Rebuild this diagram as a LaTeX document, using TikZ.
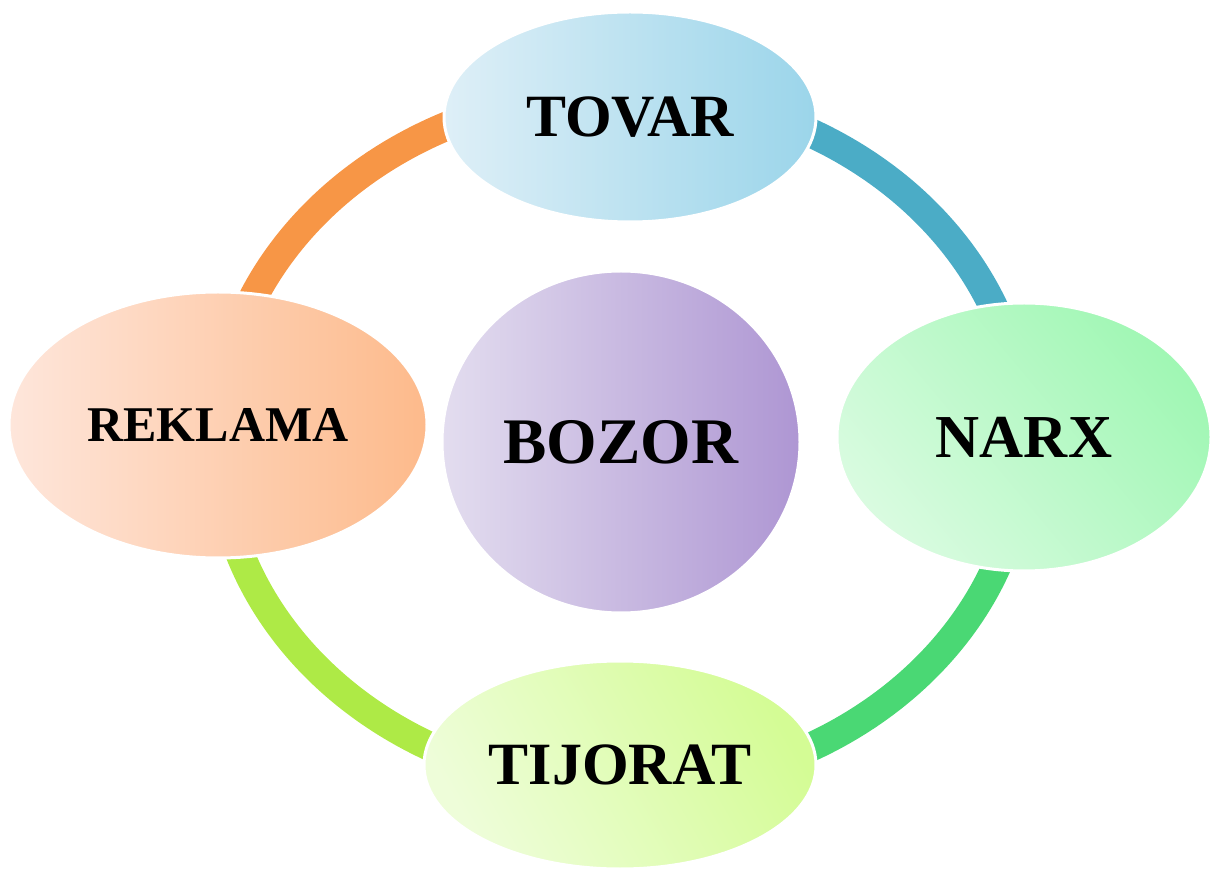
\documentclass[tikz,border=0pt]{standalone}
\usepackage{fontspec}
\setmainfont{Liberation Serif}
\usetikzlibrary{shapes.geometric}

\definecolor{ringorange}{HTML}{F79646}
\definecolor{ringblue}{HTML}{4BACC6}
\definecolor{ringgreen}{HTML}{4AD874}
\definecolor{ringlime}{HTML}{AEEA46}

\definecolor{tovL}{HTML}{DEEFF7}
\definecolor{tovR}{HTML}{9BD5EA}
\definecolor{narL}{HTML}{D9FBE0}
\definecolor{narR}{HTML}{A0F7B4}
\definecolor{tijL}{HTML}{EEFDD9}
\definecolor{tijR}{HTML}{D4FC95}
\definecolor{rekL}{HTML}{FEE6DB}
\definecolor{rekR}{HTML}{FDBA8B}
\definecolor{bozL}{HTML}{E3DDEF}
\definecolor{bozR}{HTML}{AE96D3}

\begin{document}
\begin{tikzpicture}[x=1pt,y=1pt,
  bubble/.style={ellipse, draw=white, line width=3pt, inner sep=0pt,
    text=black, font=\bfseries},
  ringarc/.style={line width=29pt},
]
\useasboundingbox (0,0) rectangle (1210,868);

% centre of the ring
\coordinate (c) at (621,428);

% coloured ring, one quarter per colour
\draw[ringarc, ringorange] ([shift={(90:403 and 348)}]c) arc[start angle=90, end angle=180, x radius=403, y radius=348];
\draw[ringarc, ringlime]   ([shift={(180:403 and 348)}]c) arc[start angle=180, end angle=270, x radius=403, y radius=348];
\draw[ringarc, ringgreen]  ([shift={(270:403 and 348)}]c) arc[start angle=270, end angle=360, x radius=403, y radius=348];
\draw[ringarc, ringblue]   ([shift={(0:403 and 348)}]c) arc[start angle=0, end angle=90, x radius=403, y radius=348];

% bubbles on the ring
\node[bubble, minimum width=372, minimum height=210, left color=tovL, right color=tovR,
  font=\bfseries\fontsize{60}{70}\selectfont] (tovar) at (630,751) {TOVAR};
\node[bubble, minimum width=374, minimum height=268, bottom color=narL, top color=narR, shading angle=-50,
  font=\bfseries\fontsize{61}{70}\selectfont] (narx) at (1024,431) {NARX};
\node[bubble, minimum width=392, minimum height=208, bottom color=tijL, top color=tijR, shading angle=-60,
  font=\bfseries\fontsize{60}{70}\selectfont] (tijorat) at (620,103) {TIJORAT};
\node[bubble, minimum width=418, minimum height=266, left color=rekL, right color=rekR,
  font=\bfseries\fontsize{50}{60}\selectfont] (reklama) at (218,443) {REKLAMA};

% centre bubble
\node[bubble, minimum width=358, minimum height=342, left color=bozL, right color=bozR,
  font=\bfseries\fontsize{65}{75}\selectfont] (bozor) at (621,426) {BOZOR};
\end{tikzpicture}
\end{document}
